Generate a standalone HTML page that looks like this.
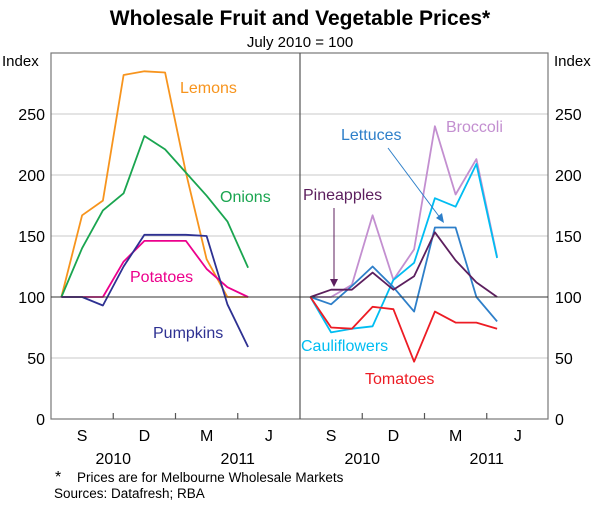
<!DOCTYPE html>
<html><head><meta charset="utf-8"><style>
body{margin:0;background:#fff;font-family:"Liberation Sans",Arial,sans-serif}
svg text{font-family:"Liberation Sans",Arial,sans-serif}
</style></head><body>
<svg id="c" width="600" height="503" viewBox="0 0 600 503">
<text x="300" y="25" text-anchor="middle" font-size="21" font-weight="bold" fill="#000">Wholesale Fruit and Vegetable Prices*</text>
<text x="300" y="47" text-anchor="middle" font-size="15" fill="#000">July 2010 = 100</text>
<g id="grid"></g><g id="series"></g><g id="axes"></g>
</svg>
<script>
const yTicks=[0,50,100,150,200,250];
const xLabels=["S","D","M","J"];
const yearLabels=["2010","2011"];
const lemons=[100,167,179,282,285,284,202,131,100,100];
const onions=[100,140,171,185,232,221,202,183,162,124];
const potatoes=[100,100,100,129,146,146,146,123,108,100];
const pumpkins=[100,100,93,125,151,151,151,150,94,59];
const broccoli=[100,100,110,167,114,139,240,184,213,133];
const lettuces=[100,94,109,125,108,88,157,157,100,80];
const cauliflowers=[100,71,74,76,114,128,181,174,209,132];
const pineapples=[100,106,106,120,106,117,153,130,112,100];
const tomatoes=[100,75,74,92,90,47,88,79,79,74];
const NS="http://www.w3.org/2000/svg";
const PT=53,PB=419,L=51,M=300,R=548;
const mw=(M-L)/12;
function yS(v){return PB-(v/300)*(PB-PT);}
function xS(panel,i){return (panel?M:L)+mw*(i+0.5);}
function mk(tag,at,parent){const e=document.createElementNS(NS,tag);for(const k in at)e.setAttribute(k,at[k]);document.getElementById(parent).appendChild(e);return e;}
yTicks.forEach(v=>{
 if(v===0||v===100)return;
 const g=mk('line',{x1:L,x2:R,y1:yS(v),y2:yS(v),stroke:'#c8c8c8','stroke-width':1},'grid');
 
 
});
yTicks.forEach(v=>{
 const a=mk('text',{x:45,y:yS(v)+6,'text-anchor':'end','font-size':16},'axes');a.textContent=v;
 
 
 const b=mk('text',{x:555,y:yS(v)+6,'text-anchor':'start','font-size':16},'axes');b.textContent=v;
 
 
});
let t=mk('text',{x:2,y:66,'font-size':15},'axes');t.textContent='Index';


t=mk('text',{x:554,y:66,'font-size':15},'axes');t.textContent='Index';


let f=mk('rect',{x:L,y:PT,width:R-L,height:PB-PT,fill:'none',stroke:'#777','stroke-width':1.2},'axes');


f=mk('line',{x1:M,x2:M,y1:PT,y2:PB,stroke:'#555','stroke-width':1.2},'axes');


f=mk('line',{x1:L,x2:R,y1:yS(100),y2:yS(100),stroke:'#333','stroke-width':1},'axes');


[0,1].forEach(p=>{
 [1,2,3].forEach(q=>{const tk=mk('line',{x1:(p?M:L)+mw*3*q,x2:(p?M:L)+mw*3*q,y1:PB,y2:PB-6,stroke:'#555','stroke-width':1.2},'axes');
  
  });
 xLabels.forEach((s,q)=>{const tx=mk('text',{x:(p?M:L)+mw*(3*q+1.5),y:441,'text-anchor':'middle','font-size':16},'axes');tx.textContent=s;
  
  });
 yearLabels.forEach((s,q)=>{const tx=mk('text',{x:(p?M:L)+mw*(3+6*q),y:464,'text-anchor':'middle','font-size':16},'axes');tx.textContent=s;
  
  });
});
function line(panel,data,color,name){
 const pts=data.map((v,i)=>xS(panel,i).toFixed(1)+','+yS(v).toFixed(1)).join(' ');
 const pl=mk('polyline',{points:pts,fill:'none',stroke:color,'stroke-width':1.8,'stroke-linejoin':'round'},'series');
 
 
}
line(0,lemons,'#f7941d','lemons');
line(0,onions,'#1aa550','onions');
line(0,potatoes,'#ec008c','potatoes');
line(0,pumpkins,'#2e3192','pumpkins');
line(1,broccoli,'#c38fd0','broccoli');
line(1,cauliflowers,'#00bdf2','cauliflowers');
line(1,lettuces,'#2e7fc9','lettuces');
line(1,pineapples,'#5c1f5e','pineapples');
line(1,tomatoes,'#ed1c24','tomatoes');
function lab(s,xx,yy,c,n){const e=mk('text',{x:xx,y:yy,'font-size':16,fill:c},'series');e.textContent=s;
 
 }
lab('Lemons',180,93,'#f7941d','lemons-label');
lab('Onions',220,202,'#1aa550','onions-label');
lab('Potatoes',130,282,'#ec008c','potatoes-label');
lab('Pumpkins',153,338,'#2e3192','pumpkins-label');
lab('Lettuces',341,140,'#2e7fc9','lettuces-label');
lab('Broccoli',446,132,'#c38fd0','broccoli-label');
lab('Pineapples',303,200,'#5c1f5e','pineapples-label');
lab('Cauliflowers',301,351,'#00bdf2','cauliflowers-label');
lab('Tomatoes',365,384,'#ed1c24','tomatoes-label');
let ar=mk('line',{x1:388,y1:148,x2:441,y2:219,stroke:'#2e7fc9','stroke-width':1},'series');


ar=mk('polygon',{points:'444,223 436,218 442,213',fill:'#2e7fc9'},'series');


ar=mk('line',{x1:334,y1:208,x2:334,y2:282,stroke:'#5c1f5e','stroke-width':1},'series');


ar=mk('polygon',{points:'334,287 330,279 338,279',fill:'#5c1f5e'},'series');


lab('*',55,482,'#000','footnote-star');
let fn=mk('text',{x:77,y:482,'font-size':13.5},'axes');fn.textContent='Prices are for Melbourne Wholesale Markets';


fn=mk('text',{x:54,y:498,'font-size':13.5},'axes');fn.textContent='Sources: Datafresh; RBA';


</script>
</body></html>
